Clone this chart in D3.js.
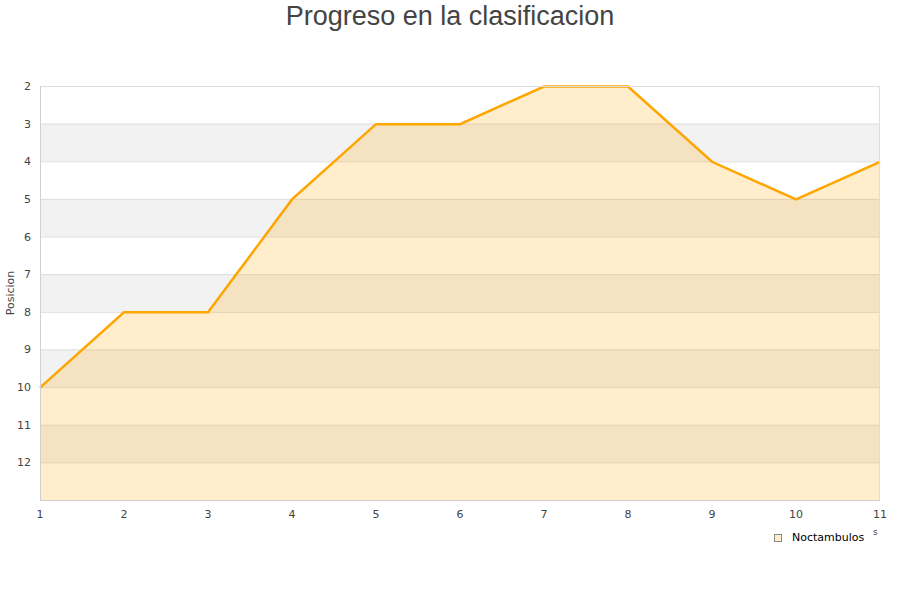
<!DOCTYPE html>
<html><head><meta charset="utf-8">
<script src="https://cdn.jsdelivr.net/npm/d3@7"></script>
<style>body{margin:0;background:#fff}svg{display:block;font-family:"DejaVu Sans",sans-serif}</style>
</head><body>
<svg id="c" width="900" height="600"></svg>
<script>
const jornadas = [1,2,3,4,5,6,7,8,9,10,11];
const posiciones = [10,8,8,5,3,3,2,2,4,5,4];
const yTicks = [2,3,4,5,6,7,8,9,10,11,12];
const seriesName = "Noctambulos";
const titleText = "Progreso en la clasificacion";

const svg = d3.select("#c");
const L=40,R=880,T=86,B=500;
const x = d3.scaleLinear().domain([1,11]).range([L,R]);
const y = d3.scaleLinear().domain([2,13]).range([T,B]);

// bands
const bands = [3,5,7,9,11];
svg.selectAll(".band").data(bands).enter().append("rect")
  .attr("x",L).attr("width",R-L).attr("y",d=>y(d)).attr("height",d=>y(d+1)-y(d)).attr("fill","#f2f2f2");
// grid
svg.selectAll(".grid").data(yTicks).enter().append("line")
  .attr("x1",L).attr("x2",R).attr("y1",d=>y(d)+0.5).attr("y2",d=>y(d)+0.5).attr("stroke","#ddd");
// area
const area = d3.area().x((d,i)=>x(jornadas[i])).y0(B).y1(d=>y(d));
svg.append("path").datum(posiciones).attr("d",area).attr("fill","rgba(255,165,0,0.2)");
const line = d3.line().x((d,i)=>x(jornadas[i])).y(d=>y(d)+0.5);
svg.append("path").datum(posiciones).attr("d",line).attr("fill","none").attr("stroke","#ffa500").attr("stroke-width",2.5);
// border
svg.append("rect").attr("x",L+0.5).attr("y",T+0.5).attr("width",R-L-1).attr("height",B-T).attr("fill","none").attr("stroke","#ddd");
svg.append("line").attr("x1",L+0.5).attr("x2",L+0.5).attr("y1",T).attr("y2",B).attr("stroke","#d0d0d0");
svg.append("line").attr("x1",L).attr("x2",R).attr("y1",B+0.5).attr("y2",B+0.5).attr("stroke","#d0d0d0");

// axes labels
svg.selectAll(".yl").data(yTicks).enter().append("text")
  .attr("x",31).attr("y",d=>y(d)+4).attr("text-anchor","end").attr("font-size",11).attr("fill","#444").text(d=>d);
svg.selectAll(".xl").data(jornadas).enter().append("text")
  .attr("x",d=>x(d)).attr("y",518).attr("text-anchor","middle").attr("font-size",11).attr("fill","#444").text(d=>d);
svg.append("text").attr("transform","translate(14,293) rotate(-90)").attr("text-anchor","middle")
  .attr("font-size",11).attr("fill","#444").text("Posicion");
// visible fragment of the x-axis title (rest hidden behind legend)
svg.append("text").attr("x",873).attr("y",535).attr("font-size",9).attr("fill","#444").text("s");

// title
svg.append("text").attr("x",450).attr("y",25).attr("text-anchor","middle")
  .attr("font-family","'Liberation Sans',Arial,sans-serif").attr("font-size",27).attr("fill","#444").text(titleText);

// legend
svg.append("rect").attr("x",774.5).attr("y",534.5).attr("width",7).attr("height",7).attr("fill","#ffedcc").attr("stroke","#888");
svg.append("text").attr("x",792).attr("y",541).attr("font-size",11).attr("fill","#000").text(seriesName);
</script>
</body></html>
